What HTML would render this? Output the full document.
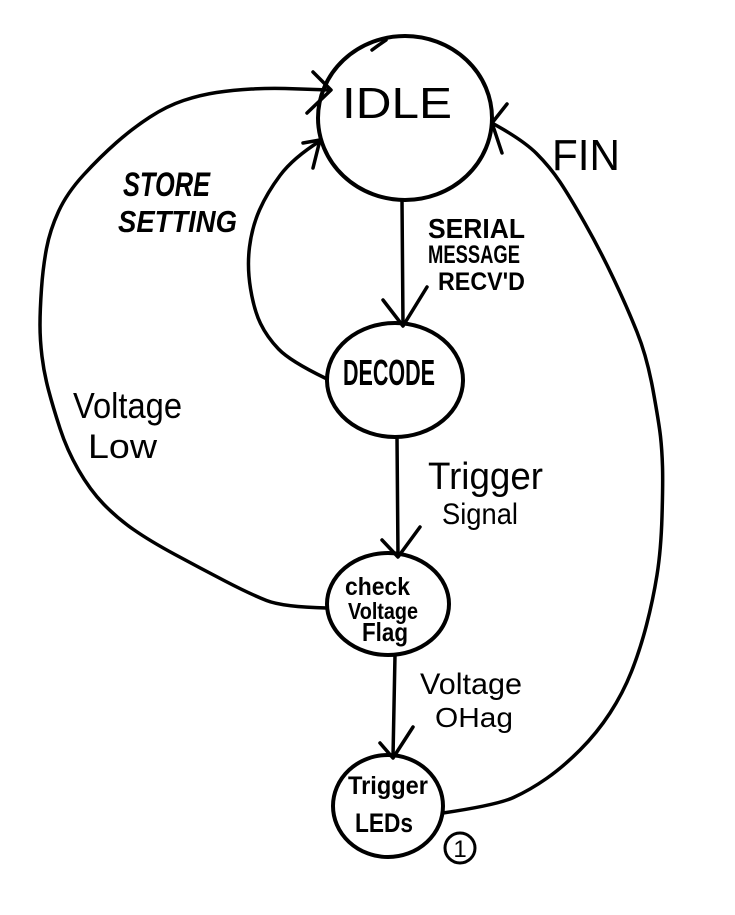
<!DOCTYPE html>
<html>
<head>
<meta charset="utf-8">
<style>
  html, body { margin: 0; padding: 0; background: #ffffff; }
  svg { display: block; }
  text { font-family: "Liberation Sans", "DejaVu Sans", sans-serif; fill: #000; }
</style>
</head>
<body>
<svg width="735" height="915" viewBox="0 0 735 915" xmlns="http://www.w3.org/2000/svg">
  <rect x="0" y="0" width="735" height="915" fill="#ffffff"/>
  <g fill="none" stroke="#000" stroke-linecap="round" stroke-linejoin="round">
    <!-- State circles -->
    <ellipse cx="405" cy="118" rx="87" ry="82" stroke-width="4"/>
    <path d="M372 50 Q380 44 386 40" stroke-width="3.5"/>
    <ellipse cx="395" cy="380" rx="68" ry="57" stroke-width="4"/>
    <ellipse cx="388" cy="604" rx="61" ry="51" stroke-width="4"/>
    <ellipse cx="388" cy="806" rx="55" ry="51" stroke-width="4"/>
    <circle cx="460" cy="848" r="15" stroke-width="3"/>

    <!-- IDLE -> DECODE -->
    <path d="M402 200 L403 325" stroke-width="3.5"/>
    <path d="M383 300 L403 326 L427 287" stroke-width="3.5"/>

    <!-- DECODE -> Check -->
    <path d="M397 437 L398 556" stroke-width="3.5"/>
    <path d="M382 540 L398 557 L420 527" stroke-width="3.5"/>

    <!-- Check -> LEDs -->
    <path d="M395 655 L393 757" stroke-width="3.5"/>
    <path d="M380 743 L393 758 L413 727" stroke-width="3.5"/>

    <!-- Voltage Low loop -->
    <path d="M327 608 Q283 607 266.5 600.5 Q250 594 225 581 Q200 568 175 554.5 Q150 541 133.5 529.5 Q117 518 103.5 504 Q90 490 78.5 470 Q67 450 60 428.5 Q53 407 48.5 390 Q44 373 42 356.5 Q40 340 40 325 Q40 310 41.5 288.5 Q43 267 46.5 248.5 Q50 230 58.5 211.5 Q67 193 83.5 175 Q100 157 116.5 142.5 Q133 128 150 117 Q167 106 183.5 100.5 Q200 95 216.5 92.5 Q233 90 251.5 89 Q270 88 285 88.5 Q300 89 330 90" stroke-width="3.5"/>
    <path d="M313 72 L331 90 L307 113" stroke-width="3.5"/>

    <!-- Store setting loop -->
    <path d="M325 378 Q290 361 278.5 349 Q267 337 260.5 323.5 Q254 310 250.5 288.5 Q247 267 249.5 247 Q252 227 259.5 210 Q267 193 280 175.5 Q293 158 320 141" stroke-width="3.5"/>
    <path d="M303 143 L320 140 L313 168" stroke-width="3.5"/>

    <!-- FIN loop -->
    <path d="M443 813 Q497 805 513.5 797.5 Q530 790 546.5 778.5 Q563 767 580 750 Q597 733 610 713 Q623 693 631.5 671.5 Q640 650 646.5 625 Q653 600 657 575 Q661 550 662 516.5 Q663 483 662.5 466.5 Q662 450 660.5 436.5 Q659 423 653 390 Q647 357 637 332 Q627 307 613.5 278.5 Q600 250 585 223.5 Q570 197 560 182 Q550 167 536.5 153.5 Q523 140 492 123" stroke-width="3.5"/>
    <path d="M507 104 L492 123 L502 153" stroke-width="3.5"/>
  </g>

  <!-- Labels -->
  <text x="342" y="118" font-size="44" textLength="110" lengthAdjust="spacingAndGlyphs">IDLE</text>

  <text x="428" y="238" font-size="28" font-weight="bold" textLength="97" lengthAdjust="spacingAndGlyphs">SERIAL</text>
  <text x="428" y="263" font-size="25" font-weight="bold" textLength="92" lengthAdjust="spacingAndGlyphs">MESSAGE</text>
  <text x="438" y="290" font-size="25" font-weight="bold" textLength="87" lengthAdjust="spacingAndGlyphs">RECV'D</text>

  <text x="123" y="196" font-size="34" font-weight="bold" font-style="italic" textLength="87" lengthAdjust="spacingAndGlyphs">STORE</text>
  <text x="118" y="232" font-size="31" font-weight="bold" font-style="italic" textLength="119" lengthAdjust="spacingAndGlyphs">SETTING</text>

  <text x="343" y="385" font-size="36" font-weight="bold" textLength="92" lengthAdjust="spacingAndGlyphs">DECODE</text>

  <text x="428" y="489" font-size="38" textLength="115" lengthAdjust="spacingAndGlyphs">Trigger</text>
  <text x="442" y="524" font-size="30" textLength="76" lengthAdjust="spacingAndGlyphs">Signal</text>

  <text x="73" y="418" font-size="36" textLength="109" lengthAdjust="spacingAndGlyphs">Voltage</text>
  <text x="88" y="458" font-size="34" textLength="69" lengthAdjust="spacingAndGlyphs">Low</text>

  <text x="552" y="170" font-size="44" textLength="68" lengthAdjust="spacingAndGlyphs">FIN</text>

  <text x="345" y="595" font-size="25" font-weight="bold" textLength="65" lengthAdjust="spacingAndGlyphs">check</text>
  <text x="348" y="619" font-size="23" font-weight="bold" textLength="70" lengthAdjust="spacingAndGlyphs">Voltage</text>
  <text x="362" y="641" font-size="26" font-weight="bold" textLength="46" lengthAdjust="spacingAndGlyphs">Flag</text>

  <text x="420" y="694" font-size="30" textLength="102" lengthAdjust="spacingAndGlyphs">Voltage</text>
  <text x="435" y="727" font-size="28" textLength="78" lengthAdjust="spacingAndGlyphs">OHag</text>

  <text x="348" y="794" font-size="25" font-weight="bold" textLength="80" lengthAdjust="spacingAndGlyphs">Trigger</text>
  <text x="355" y="832" font-size="27" font-weight="bold" textLength="58" lengthAdjust="spacingAndGlyphs">LEDs</text>

  <text x="460" y="857" font-size="24" text-anchor="middle">1</text>
</svg>
</body>
</html>
